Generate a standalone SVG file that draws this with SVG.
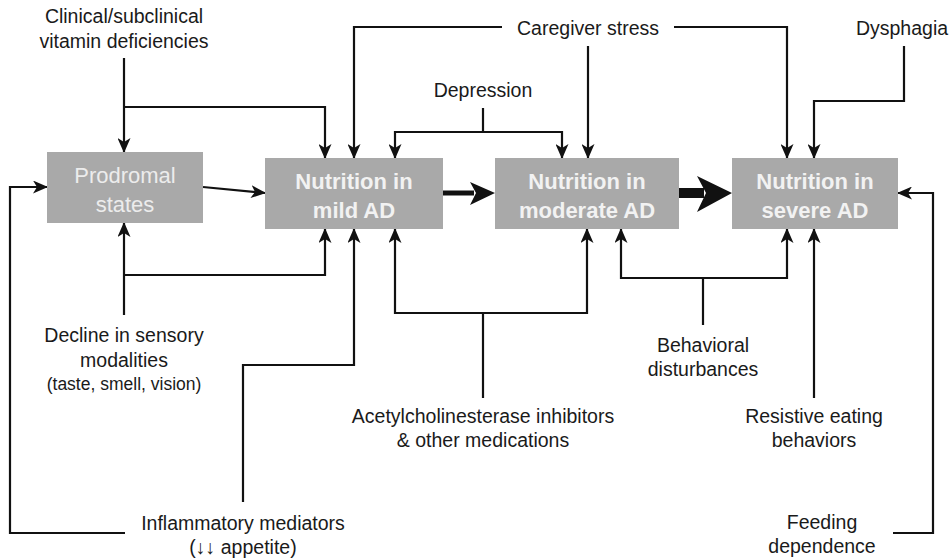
<svg xmlns="http://www.w3.org/2000/svg" width="952" height="560" viewBox="0 0 952 560">
  <defs>
    <marker id="arr" viewBox="0 0 15 13" markerWidth="15" markerHeight="13" refX="14" refY="6.5" orient="auto" markerUnits="userSpaceOnUse">
      <path d="M0,0 L15,6.5 L0,13 L4,6.5 z" fill="#111"/>
    </marker>
    <style>
      .box { fill: #a9a9a9; }
      .bt { font-family: "Liberation Sans", Arial, sans-serif; font-size: 22px; font-weight: bold; fill: #f2f2f2; text-anchor: middle; }
      .pt { font-family: "Liberation Sans", Arial, sans-serif; font-size: 22px; fill: #ececec; text-anchor: middle; }
      .lb { font-family: "Liberation Sans", Arial, sans-serif; font-size: 19.5px; fill: #1a1a1a; text-anchor: middle; }
      .sm { font-size: 17.5px; }
      .ln { fill: none; stroke: #111; stroke-width: 2.2; }
      .ar { marker-end: url(#arr); }
    </style>
  </defs>
  <rect width="952" height="560" fill="#fff"/>

  <!-- connectors -->
  <g id="connectors">
    <!-- vitamin deficiencies -->
    <path class="ln ar" d="M124,58 V152"/>
    <path class="ln ar" d="M124,107 H325 V158"/>
    <!-- caregiver stress -->
    <path class="ln ar" d="M502,27 H354 V158"/>
    <path class="ln ar" d="M588,46 V158"/>
    <path class="ln ar" d="M674,27 H787 V158"/>
    <!-- depression -->
    <path class="ln" d="M483,108 V132"/>
    <path class="ln ar" d="M483,132 H395 V158"/>
    <path class="ln ar" d="M483,132 H562 V158"/>
    <!-- dysphagia -->
    <path class="ln ar" d="M904,46 V101 H814 V158"/>
    <!-- prodromal to mild -->
    <path class="ln ar" d="M203,187 L265,193"/>
    <!-- mild to moderate -->
    <path d="M443,193 H474" stroke="#111" stroke-width="5" fill="none"/>
    <path d="M470,182 L495,193 L470,205 L476,193 z" fill="#111"/>
    <!-- moderate to severe -->
    <path d="M679,193 H704" stroke="#111" stroke-width="10" fill="none"/>
    <path d="M697,176 L732,193 L697,212 L706,193 z" fill="#111"/>
    <!-- inflammatory mediators -->
    <path class="ln ar" d="M125,533 H10 V187 H47"/>
    <path class="ln ar" d="M243,502 V365 H354 V229"/>
    <!-- sensory decline -->
    <path class="ln ar" d="M124,315 V223"/>
    <path class="ln ar" d="M124,275 H325 V229"/>
    <!-- medications -->
    <path class="ln" d="M483,398 V313"/>
    <path class="ln ar" d="M483,313 H395 V229"/>
    <path class="ln ar" d="M483,313 H587 V229"/>
    <!-- behavioral disturbances -->
    <path class="ln" d="M703,325 V278"/>
    <path class="ln ar" d="M703,278 H621 V229"/>
    <path class="ln ar" d="M703,278 H787 V229"/>
    <!-- resistive eating -->
    <path class="ln ar" d="M814,398 V229"/>
    <!-- feeding dependence -->
    <path class="ln ar" d="M893,533 H933 V193 H898"/>
  </g>

  <!-- stage boxes -->
  <g id="prodromal">
    <rect class="box" x="47" y="152" width="156" height="71"/>
    <text class="pt" x="125" y="183">Prodromal</text>
    <text class="pt" x="125" y="212">states</text>
  </g>
  <g id="mild">
    <rect class="box" x="265" y="158" width="178" height="71"/>
    <text class="bt" x="354" y="189">Nutrition in</text>
    <text class="bt" x="354" y="218">mild AD</text>
  </g>
  <g id="moderate">
    <rect class="box" x="495" y="158" width="184" height="71"/>
    <text class="bt" x="587" y="189">Nutrition in</text>
    <text class="bt" x="587" y="218">moderate AD</text>
  </g>
  <g id="severe">
    <rect class="box" x="732" y="158" width="166" height="71"/>
    <text class="bt" x="815" y="189">Nutrition in</text>
    <text class="bt" x="815" y="218">severe AD</text>
  </g>

  <!-- factor labels -->
  <g id="vitamin">
    <text class="lb" x="124" y="23">Clinical/subclinical</text>
    <text class="lb" x="124" y="48">vitamin deficiencies</text>
  </g>
  <g id="caregiver">
    <text class="lb" x="588" y="35">Caregiver stress</text>
  </g>
  <g id="depression">
    <text class="lb" x="483" y="97">Depression</text>
  </g>
  <g id="dysphagia">
    <text class="lb" x="902" y="35">Dysphagia</text>
  </g>
  <g id="sensory">
    <text class="lb" x="124" y="342">Decline in sensory</text>
    <text class="lb" x="124" y="367">modalities</text>
    <text class="lb sm" x="124" y="390">(taste, smell, vision)</text>
  </g>
  <g id="medications">
    <text class="lb" x="483" y="423">Acetylcholinesterase inhibitors</text>
    <text class="lb" x="483" y="447">&amp; other medications</text>
  </g>
  <g id="behavioral">
    <text class="lb" x="703" y="352">Behavioral</text>
    <text class="lb" x="703" y="376">disturbances</text>
  </g>
  <g id="resistive">
    <text class="lb" x="814" y="423">Resistive eating</text>
    <text class="lb" x="814" y="447">behaviors</text>
  </g>
  <g id="inflammatory">
    <text class="lb" x="243" y="530">Inflammatory mediators</text>
    <text class="lb" x="243" y="554">(↓↓ appetite)</text>
  </g>
  <g id="feeding">
    <text class="lb" x="822" y="529">Feeding</text>
    <text class="lb" x="822" y="553">dependence</text>
  </g>
</svg>
